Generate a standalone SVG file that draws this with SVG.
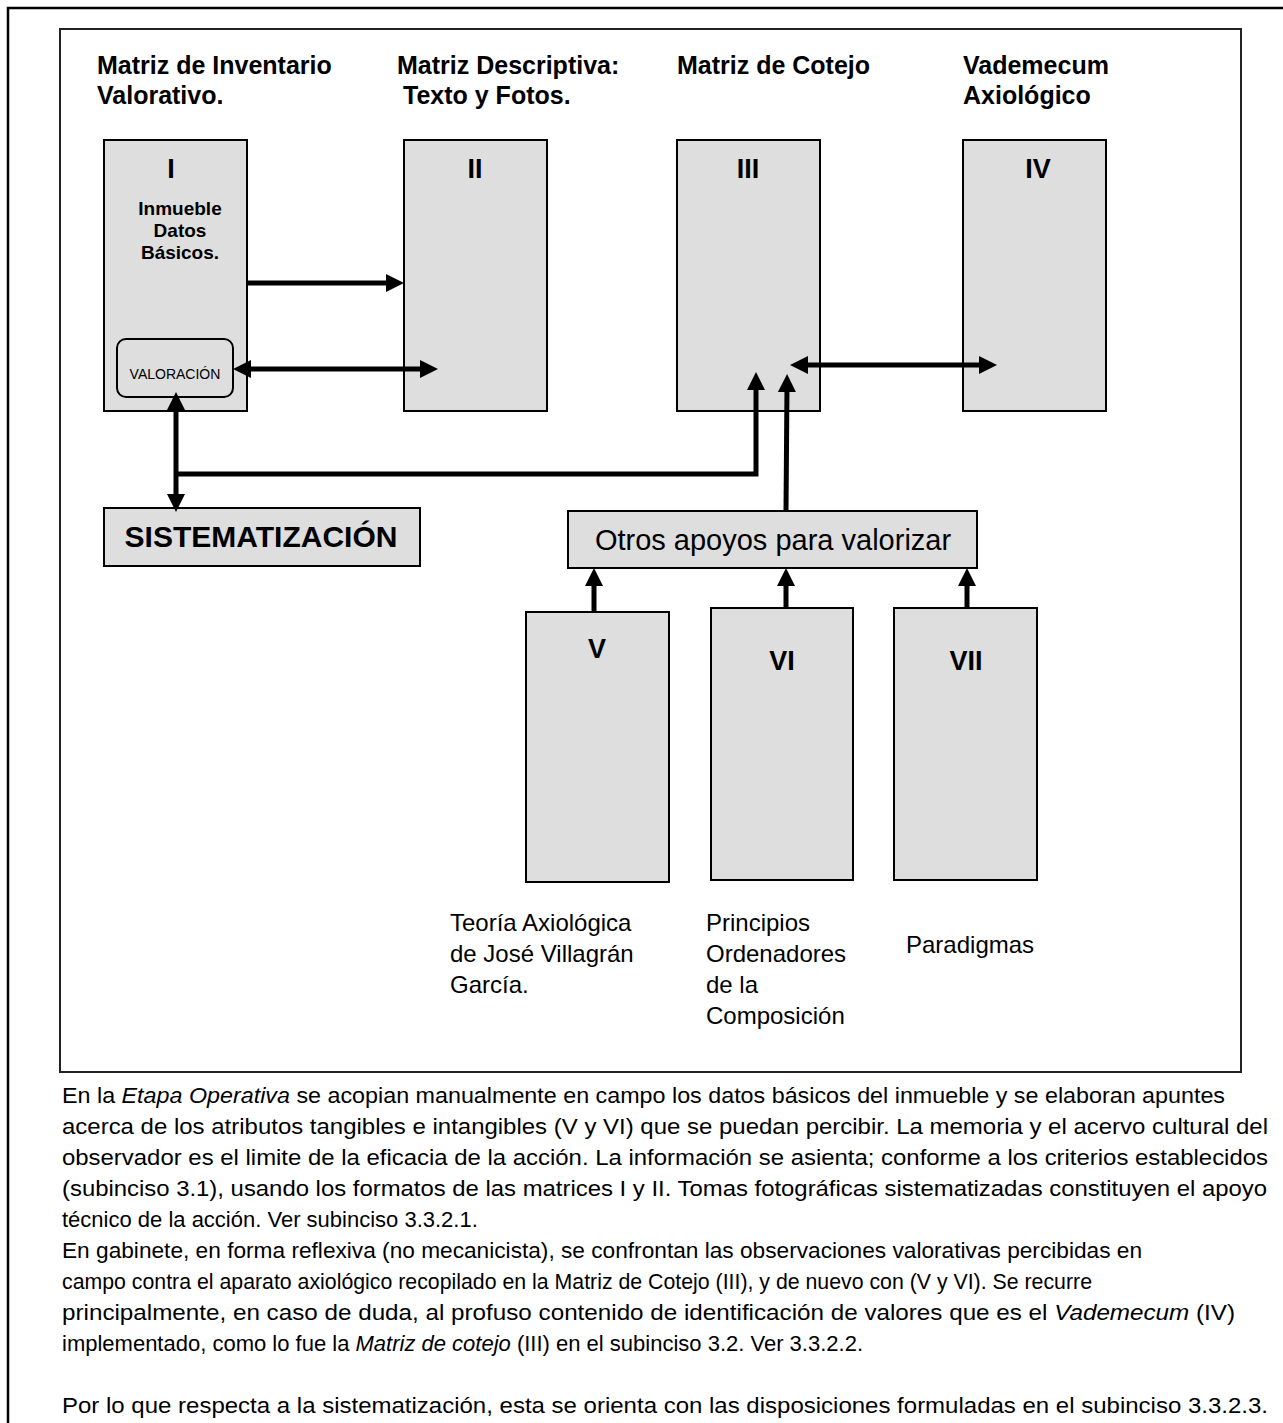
<svg xmlns="http://www.w3.org/2000/svg" width="1283" height="1423" viewBox="0 0 1283 1423">
<style>
.box{fill:#dedede;stroke:#000;stroke-width:2}
.hd{font-family:"Liberation Sans",Arial,sans-serif;font-weight:bold;font-size:25px;fill:#000}
.num{font-family:"Liberation Sans",Arial,sans-serif;font-weight:bold;font-size:27px;fill:#000;text-anchor:middle}
.sub{font-family:"Liberation Sans",Arial,sans-serif;font-weight:bold;font-size:19px;fill:#000;text-anchor:middle}
.lbl{font-family:"Liberation Sans",Arial,sans-serif;font-size:24px;fill:#000}
.par{font-family:"Liberation Sans",Arial,sans-serif;font-size:22px;fill:#000}
.conn{fill:none;stroke:#000;stroke-width:5}
</style>
<defs>
<marker id="ah" markerUnits="userSpaceOnUse" markerWidth="18" markerHeight="18" refX="6" refY="9" orient="auto-start-reverse">
<path d="M0,0 L18,9 L0,18 z" fill="#000"/>
</marker>
</defs>
<rect width="1283" height="1423" fill="#fff"/>
<path d="M8,1423 L8,8 L1283,8" fill="none" stroke="#000" stroke-width="2.5"/>
<rect x="60" y="29" width="1181" height="1043" fill="none" stroke="#222" stroke-width="2"/>

<g id="header">
<text class="hd" x="97" y="74">Matriz de Inventario</text>
<text class="hd" x="97" y="104">Valorativo.</text>
<text class="hd" x="397" y="74">Matriz Descriptiva:</text>
<text class="hd" x="403" y="104">Texto y Fotos.</text>
<text class="hd" x="677" y="74">Matriz de Cotejo</text>
<text class="hd" x="963" y="74">Vademecum</text>
<text class="hd" x="963" y="104">Axiológico</text>
</g>

<g id="node-I">
<rect class="box" x="104" y="140" width="143" height="271"/>
<text class="num" x="171" y="178">I</text>
<text class="sub" x="180" y="215">Inmueble</text>
<text class="sub" x="180" y="237">Datos</text>
<text class="sub" x="180" y="259">Básicos.</text>
</g>
<g id="node-valoracion">
<rect x="117" y="339" width="116" height="58" rx="9" fill="#dedede" stroke="#000" stroke-width="2"/>
<text x="175" y="379" font-family="Liberation Sans, Arial, sans-serif" font-size="14" text-anchor="middle">VALORACIÓN</text>
</g>
<g id="node-II">
<rect class="box" x="404" y="140" width="143" height="271"/>
<text class="num" x="475" y="178">II</text>
</g>
<g id="node-III">
<rect class="box" x="677" y="140" width="143" height="271"/>
<text class="num" x="748" y="178">III</text>
</g>
<g id="node-IV">
<rect class="box" x="963" y="140" width="143" height="271"/>
<text class="num" x="1038" y="178">IV</text>
</g>
<g id="node-sistematizacion">
<rect class="box" x="104" y="508" width="316" height="58"/>
<text x="261" y="547" font-family="Liberation Sans, Arial, sans-serif" font-weight="bold" font-size="30" text-anchor="middle">SISTEMATIZACIÓN</text>
</g>
<g id="node-otros">
<rect class="box" x="568" y="511" width="409" height="57"/>
<text x="773" y="550" font-family="Liberation Sans, Arial, sans-serif" font-size="29" text-anchor="middle">Otros apoyos para valorizar</text>
</g>
<g id="node-V">
<rect class="box" x="526" y="612" width="143" height="270"/>
<text class="num" x="597" y="658">V</text>
</g>
<g id="node-VI">
<rect class="box" x="711" y="608" width="142" height="272"/>
<text class="num" x="782" y="670">VI</text>
</g>
<g id="node-VII">
<rect class="box" x="894" y="608" width="143" height="272"/>
<text class="num" x="966" y="670">VII</text>
</g>

<g id="labels">
<text class="lbl" x="450" y="931">Teoría Axiológica</text>
<text class="lbl" x="450" y="962">de José Villagrán</text>
<text class="lbl" x="450" y="993">García.</text>
<text class="lbl" x="706" y="931">Principios</text>
<text class="lbl" x="706" y="962">Ordenadores</text>
<text class="lbl" x="706" y="993">de la</text>
<text class="lbl" x="706" y="1024">Composición</text>
<text class="lbl" x="906" y="953">Paradigmas</text>
</g>

<g id="connectors">
<path class="conn" d="M247,283 L392,283" marker-end="url(#ah)"/>
<path class="conn" d="M245,369 L426,369" marker-start="url(#ah)" marker-end="url(#ah)"/>
<path class="conn" d="M176,404 L176,500" marker-start="url(#ah)" marker-end="url(#ah)"/>
<path class="conn" d="M176,474 L756,474 L756,384" marker-end="url(#ah)"/>
<path class="conn" d="M786,511 L787,386" marker-end="url(#ah)"/>
<path class="conn" d="M802,365 L985,365" marker-start="url(#ah)" marker-end="url(#ah)"/>
<path class="conn" d="M594,612 L594,580" marker-end="url(#ah)"/>
<path class="conn" d="M786,608 L786,580" marker-end="url(#ah)"/>
<path class="conn" d="M967,608 L967,580" marker-end="url(#ah)"/>
</g>

<g id="paragraph">
<text class="par" x="62" y="1103" textLength="1163" lengthAdjust="spacingAndGlyphs">En la <tspan font-style="italic">Etapa Operativa</tspan> se acopian manualmente en campo los datos básicos del inmueble y se elaboran apuntes</text>
<text class="par" x="62" y="1134" textLength="1206" lengthAdjust="spacingAndGlyphs">acerca de los atributos tangibles e intangibles (V y VI) que se puedan percibir. La memoria y el acervo cultural del</text>
<text class="par" x="62" y="1165" textLength="1206" lengthAdjust="spacingAndGlyphs">observador es el limite de la eficacia de la acción. La información se asienta; conforme a los criterios establecidos</text>
<text class="par" x="62" y="1196" textLength="1205" lengthAdjust="spacingAndGlyphs">(subinciso 3.1), usando los formatos de las matrices I y II. Tomas fotográficas sistematizadas constituyen el apoyo</text>
<text class="par" x="62" y="1227">técnico de la acción. Ver subinciso 3.3.2.1.</text>
<text class="par" x="62" y="1258" textLength="1080" lengthAdjust="spacingAndGlyphs">En gabinete, en forma reflexiva (no mecanicista), se confrontan las observaciones valorativas  percibidas en</text>
<text class="par" x="62" y="1289" textLength="1030" lengthAdjust="spacingAndGlyphs">campo contra el aparato axiológico recopilado en la Matriz de Cotejo (III), y de nuevo con (V y VI). Se recurre</text>
<text class="par" x="62" y="1320" textLength="1173" lengthAdjust="spacingAndGlyphs">principalmente, en caso de duda, al profuso contenido de identificación de valores que es el <tspan font-style="italic">Vademecum</tspan> (IV)</text>
<text class="par" x="62" y="1351">implementado, como lo fue la <tspan font-style="italic">Matriz de cotejo</tspan> (III) en el subinciso 3.2. Ver 3.3.2.2.</text>
<text class="par" x="62" y="1413" textLength="1206" lengthAdjust="spacingAndGlyphs">Por lo que respecta a la sistematización, esta se orienta con las disposiciones formuladas en el subinciso 3.3.2.3.</text>
</g>
</svg>
